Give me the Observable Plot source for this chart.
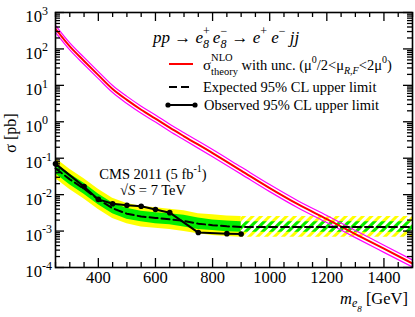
<!DOCTYPE html>
<html><head><meta charset="utf-8">
<script src="https://cdn.jsdelivr.net/npm/d3@7"></script>
<script src="https://cdn.jsdelivr.net/npm/@observablehq/plot@0.6"></script>
<style>
body{margin:0;background:#fff;}
#chart{width:415px;height:317px;}
svg text{white-space:pre;}
</style>
</head><body><div id="chart"></div>
<script>
// ---- data ----
const theoryMass = [250,300,350,400,450,500,550,600,650,700,800,900,1000,1100,1200,1300,1400,1500];
const theoryXsec = [355,117,46.8,19.1,7.94,3.98,2.14,1.22,0.69,0.40,0.138,0.0457,0.0151,0.00537,0.00214,0.00083,0.00033,0.000129];
const theoryUp   = [444,146,58.5,23.9,9.93,4.98,2.68,1.53,0.86,0.50,0.173,0.0571,0.0189,0.00671,0.00268,0.00104,0.00041,0.000161];
const theoryDown = [284,93.6,37.4,15.3,6.35,3.18,1.71,0.98,0.55,0.32,0.110,0.0366,0.0121,0.0043,0.00171,0.00066,0.00026,0.000103];

const limitMass   = [250,300,350,400,450,500,550,600,650,700,750,800,850,900];
const expected    = [0.0525,0.0263,0.0145,0.0074,0.0042,0.0030,0.0025,0.0023,0.0021,0.0019,0.0016,0.00145,0.00135,0.0013];
const green1Lo    = [0.0372,0.0187,0.0103,0.0053,0.0030,0.0021,0.0018,0.0016,0.0015,0.0013,0.0011,0.00103,0.00096,0.00093];
const green1Hi    = [0.074,0.037,0.0204,0.0104,0.0059,0.0042,0.0035,0.0032,0.0030,0.0027,0.0023,0.0020,0.0019,0.0018];
const yellow2Lo   = [0.0276,0.0138,0.0076,0.0039,0.0022,0.0016,0.0013,0.0012,0.0011,0.00098,0.00084,0.00076,0.00071,0.00068];
const yellow2Hi   = [0.100,0.050,0.0275,0.0141,0.0080,0.0057,0.0048,0.0044,0.0040,0.0036,0.0030,0.0028,0.0026,0.0025];

const extrapMass     = [900,1500];
const extrapExpected = [0.0013,0.0013];
const extrapGreenLo  = [0.00093,0.00093];
const extrapGreenHi  = [0.0018,0.0018];
const extrapYellowLo = [0.00068,0.00068];
const extrapYellowHi = [0.0025,0.0025];

const obsMass  = [250,350,400,450,500,550,600,650,750,850,900];
const observed = [0.070,0.0166,0.0074,0.0056,0.0051,0.0048,0.0039,0.0032,0.00091,0.00085,0.00083];

const xTickLabels = [400,600,800,1000,1200,1400];
const yTickExponents = [-4,-3,-2,-1,0,1,2,3];

// ---- derived tables ----
const theory = theoryMass.map((m,i)=>({m, s:theoryXsec[i], up:theoryUp[i], dn:theoryDown[i]}));
const band = limitMass.map((m,i)=>({m, e:expected[i], g1:green1Lo[i], g2:green1Hi[i], y1:yellow2Lo[i], y2:yellow2Hi[i]}));
const extrap = extrapMass.map((m,i)=>({m, e:extrapExpected[i], g1:extrapGreenLo[i], g2:extrapGreenHi[i], y1:extrapYellowLo[i], y2:extrapYellowHi[i]}));
const expLine = band.map(d=>({m:d.m,e:d.e})).concat(extrap.slice(1).map(d=>({m:d.m,e:d.e})));
const obs = obsMass.map((m,i)=>({m, s:observed[i]}));

const W=415,H=317, mL=55, mR=3, mT=12, mB=50;
const xDom=[250,1500], yDom=[1e-4,1e3];
const pxPerGeV = (W-mL-mR)/(xDom[1]-xDom[0]);
const pxPerDec = (H-mT-mB)/7;
const xMajor = xTickLabels;
const xMinor = d3.range(250,1501,50).filter(v=>!xMajor.includes(v));
const yMajor = yTickExponents.map(e=>10**e);
const yMinor = [];
for (let e=-4;e<3;e++) for (let k=2;k<10;k++) yMinor.push(k*10**e);
const LMaj=9, LMin=5;
const dec = L => 10**(L/pxPerDec);
const gev = L => L/pxPerGeV;

function xTicks(vals, L){
  return [
    Plot.ruleX(vals,{x:d=>d, y1:yDom[0], y2:yDom[0]*dec(L), stroke:"black", strokeWidth:1.3}),
    Plot.ruleX(vals,{x:d=>d, y1:yDom[1], y2:yDom[1]/dec(L), stroke:"black", strokeWidth:1.3})
  ];
}
function yTicks(vals, L){
  return [
    Plot.ruleY(vals,{y:d=>d, x1:xDom[0], x2:xDom[0]+gev(L), stroke:"black", strokeWidth:1.3}),
    Plot.ruleY(vals,{y:d=>d, x1:xDom[1], x2:xDom[1]-gev(L), stroke:"black", strokeWidth:1.3})
  ];
}

const chart = Plot.plot({
  width:W, height:H, marginLeft:mL, marginRight:mR, marginTop:mT, marginBottom:mB,
  x:{domain:xDom, axis:null},
  y:{type:"log", domain:yDom, axis:null},
  style:{fontFamily:"'Liberation Serif', serif", fontSize:"16.5px", background:"white", color:"black"},
  marks:[
    Plot.areaY(band,{x:"m", y1:"y1", y2:"y2", fill:"#ffff00"}),
    Plot.areaY(band,{x:"m", y1:"g1", y2:"g2", fill:"#00ee00"}),
    Plot.areaY(extrap,{x:"m", y1:"y1", y2:"y2", fill:"url(#hatchY)"}),
    Plot.areaY(extrap,{x:"m", y1:"g1", y2:"g2", fill:"url(#hatchG)"}),
    Plot.line(theory,{x:"m", y:"up", stroke:"#ff00ff", strokeWidth:1.2, curve:"monotone-x", clip:true}),
    Plot.line(theory,{x:"m", y:"dn", stroke:"#ff00ff", strokeWidth:1.2, curve:"monotone-x", clip:true}),
    Plot.line(theory,{x:"m", y:"s", stroke:"#ff0000", strokeWidth:2, curve:"monotone-x", clip:true}),
    Plot.line(expLine,{x:"m", y:"e", stroke:"black", strokeWidth:2, strokeDasharray:"8,4"}),
    Plot.line(obs,{x:"m", y:"s", stroke:"black", strokeWidth:2}),
    Plot.dot(obs,{x:"m", y:"s", r:2.8, fill:"black", stroke:"none"}),
    ...xTicks(xMajor,LMaj), ...xTicks(xMinor,LMin),
    ...yTicks(yMajor,LMaj), ...yTicks(yMinor,LMin),
    Plot.frame({stroke:"black", strokeWidth:1.6}),
    Plot.axisX(xTickLabels,{tickSize:0, tickPadding:4, fontSize:16.5, label:null, tickFormat:d=>String(d)}),
    Plot.text(yTickExponents,{y:e=>10**e, frameAnchor:"left", text:()=>"10", textAnchor:"end", dx:-13.5, dy:4.5, fontSize:16.7}),
    Plot.text(yTickExponents,{y:e=>10**e, frameAnchor:"left", text:e=>String(e), textAnchor:"start", dx:-13.5, dy:-1.5, fontSize:12})
  ]
});
document.getElementById("chart").appendChild(chart);

// ---- patterns, labels, legend ----
const svg = d3.select(chart);
const defs = svg.insert("defs",":first-child");
function hatch(id,color){
  const p = defs.append("pattern").attr("id",id).attr("patternUnits","userSpaceOnUse")
    .attr("width",6).attr("height",6).attr("patternTransform","rotate(45)");
  p.append("rect").attr("x",0).attr("y",0).attr("width",3).attr("height",6).attr("fill",color);
}
hatch("hatchY","#ffff00");
hatch("hatchG","#00ee00");

const g = svg.append("g").attr("font-family","'Liberation Serif', serif").attr("fill","black").attr("text-anchor","start");
function rich(x0,y0,pieces,base,anchor){
  const grp = g.append("g");
  let x=x0, stackStart=x0, stackMax=0;
  for (const p of pieces){
    const size = p.s || base;
    const px = p.stack ? stackStart : x;
    const t = grp.append("text").attr("x",px).attr("y",y0+(p.dy||0)).attr("font-size",size)
      .attr("text-anchor","start")
      .style("font-style",p.i?"italic":"normal").text(p.t);
    const w = t.node().getComputedTextLength();
    if (p.stack){ x = stackStart+Math.max(stackMax,w); }
    else { stackStart=px; stackMax=w; x=px+w; }
  }
  if (anchor==="middle") grp.attr("transform",`translate(${-(x-x0)/2},0)`);
  return x;
}
// formula
rich(153,43,[
  {t:"pp ",i:true},{t:"→ "},{t:"e",i:true},{t:"+ ",s:12,dy:-8},{t:"8",s:12,dy:5,stack:true,i:true},
  {t:"e",i:true},{t:"−",s:12,dy:-8},{t:"8",s:12,dy:5,stack:true,i:true},
  {t:" → "},{t:"e",i:true},{t:"+",s:12,dy:-8},{t:" e",i:true},{t:"−",s:12,dy:-8},{t:" jj",i:true}
],17);
// legend row 1
rich(203,70,[
  {t:"σ",s:15},{t:"NLO",s:10.5,dy:-9},{t:"theory",s:10.5,dy:5,stack:true},
  {t:" with unc. (μ"},{t:"0",s:10,dy:-7},{t:"/2<μ"},{t:"R,F",s:10,dy:4,i:true},{t:"<2μ"},{t:"0",s:10,dy:-7},{t:")"}
],14.5);
rich(203,91.5,[{t:"Expected 95% CL upper limit"}],14.5);
rich(204,110,[{t:"Observed 95% CL upper limit"}],14.5);
// legend samples
g.append("line").attr("x1",169).attr("x2",193).attr("y1",64).attr("y2",64).attr("stroke","#ff0000").attr("stroke-width",2);
g.append("line").attr("x1",169).attr("x2",193).attr("y1",87).attr("y2",87).attr("stroke","black").attr("stroke-width",2).attr("stroke-dasharray","8,4");
g.append("line").attr("x1",168).attr("x2",195).attr("y1",105).attr("y2",105).attr("stroke","black").attr("stroke-width",2);
g.append("circle").attr("cx",168).attr("cy",105).attr("r",2.6);
g.append("circle").attr("cx",195).attr("cy",105).attr("r",2.6);
// CMS label
rich(153,179,[{t:"CMS 2011 (5 fb"},{t:"-1",s:10,dy:-7},{t:")"}],14.5,"middle");
rich(153,195,[{t:"√"},{t:"S",i:true},{t:" = 7 TeV"}],14.5,"middle");
// x label
rich(340,304,[{t:"m",i:true},{t:"e",s:12,dy:3,i:true},{t:"8",s:9,dy:8,i:true},{t:" [GeV]"}],16.5);
// y label
g.append("text").attr("transform","translate(16,133) rotate(-90)").attr("text-anchor","middle").attr("font-size",16).text("σ [pb]");
</script>
</body></html>
